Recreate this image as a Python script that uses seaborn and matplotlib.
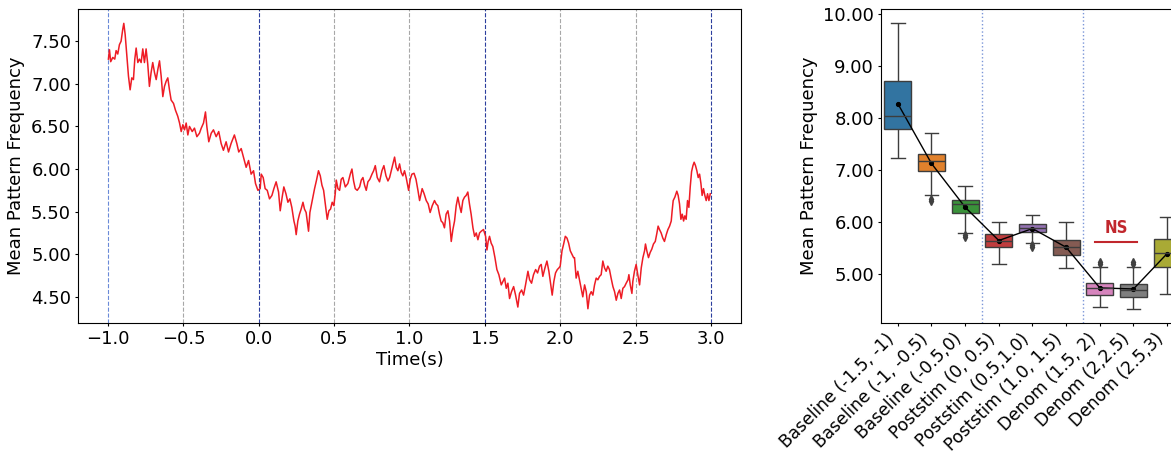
import matplotlib
matplotlib.use("Agg")
import matplotlib.pyplot as plt
import matplotlib.ticker as ticker
import numpy as np
import pandas as pd
import seaborn as sns

# ==========================================
# DONNEES
# ==========================================
# trace moyenne
time_s = [
    -0.998, -0.991, -0.983, -0.969, -0.956, -0.947, -0.936, -0.925, -0.914, -0.903,
    -0.896, -0.887, -0.876, -0.865, -0.854, -0.843, -0.832, -0.823, -0.814, -0.803,
    -0.792, -0.781, -0.770, -0.759, -0.748, -0.737, -0.726, -0.715, -0.704, -0.692,
    -0.681, -0.670, -0.659, -0.648, -0.637, -0.626, -0.615, -0.604, -0.593, -0.582,
    -0.566, -0.553, -0.538, -0.526, -0.515, -0.504, -0.493, -0.482, -0.471, -0.460,
    -0.442, -0.427, -0.411, -0.394, -0.382, -0.367, -0.354, -0.345, -0.332, -0.316,
    -0.301, -0.283, -0.266, -0.250, -0.235, -0.217, -0.201, -0.184, -0.162, -0.146,
    -0.133, -0.117, -0.102, -0.084, -0.068, -0.051, -0.035, -0.022, -0.006, 0.009,
    0.016, 0.029, 0.042, 0.056, 0.071, 0.087, 0.100, 0.115, 0.131, 0.142,
    0.155, 0.166, 0.180, 0.193, 0.206, 0.219, 0.233, 0.241, 0.248, 0.259,
    0.270, 0.281, 0.293, 0.303, 0.314, 0.330, 0.339, 0.348, 0.359, 0.370,
    0.383, 0.396, 0.408, 0.419, 0.430, 0.441, 0.454, 0.465, 0.476, 0.487,
    0.498, 0.507, 0.514, 0.525, 0.536, 0.547, 0.558, 0.574, 0.591, 0.607,
    0.618, 0.629, 0.640, 0.653, 0.669, 0.680, 0.691, 0.702, 0.713, 0.724,
    0.737, 0.751, 0.762, 0.773, 0.786, 0.801, 0.817, 0.830, 0.844, 0.857,
    0.868, 0.879, 0.890, 0.901, 0.912, 0.923, 0.934, 0.945, 0.956, 0.967,
    0.978, 0.994, 1.005, 1.016, 1.030, 1.043, 1.056, 1.067, 1.084, 1.097,
    1.111, 1.124, 1.137, 1.151, 1.166, 1.177, 1.188, 1.199, 1.210, 1.221,
    1.232, 1.243, 1.255, 1.266, 1.277, 1.288, 1.299, 1.310, 1.321, 1.332,
    1.343, 1.354, 1.365, 1.376, 1.387, 1.398, 1.409, 1.421, 1.432, 1.443,
    1.454, 1.465, 1.476, 1.491, 1.505, 1.514, 1.522, 1.531, 1.542, 1.553,
    1.567, 1.580, 1.593, 1.609, 1.620, 1.631, 1.642, 1.653, 1.664, 1.677,
    1.691, 1.704, 1.719, 1.730, 1.744, 1.757, 1.770, 1.786, 1.797, 1.810,
    1.823, 1.837, 1.850, 1.863, 1.874, 1.885, 1.899, 1.912, 1.925, 1.936,
    1.947, 1.958, 1.969, 1.981, 1.992, 2.000, 2.012, 2.023, 2.034, 2.045,
    2.056, 2.067, 2.078, 2.089, 2.095, 2.106, 2.117, 2.128, 2.139, 2.150,
    2.162, 2.173, 2.184, 2.195, 2.206, 2.217, 2.228, 2.239, 2.250, 2.261,
    2.272, 2.283, 2.294, 2.305, 2.316, 2.327, 2.338, 2.350, 2.361, 2.372,
    2.383, 2.394, 2.405, 2.416, 2.427, 2.438, 2.450, 2.456, 2.465, 2.476,
    2.482, 2.493, 2.504, 2.515, 2.527, 2.538, 2.549, 2.560, 2.566, 2.575,
    2.586, 2.597, 2.608, 2.619, 2.631, 2.642, 2.650, 2.659, 2.670, 2.681,
    2.692, 2.704, 2.715, 2.726, 2.737, 2.743, 2.750, 2.761, 2.774, 2.783,
    2.792, 2.801, 2.810, 2.819, 2.827, 2.836, 2.845, 2.854, 2.863, 2.872,
    2.881, 2.889, 2.898, 2.907, 2.916, 2.925, 2.934, 2.942, 2.951, 2.960,
    2.969, 2.978, 2.987, 2.996,
]
mean_freq = [
    7.29, 7.40, 7.26, 7.31, 7.29, 7.39, 7.35, 7.46, 7.50, 7.64,
    7.71, 7.58, 7.33, 7.09, 6.93, 7.07, 7.05, 7.29, 7.42, 7.25,
    7.29, 7.25, 7.41, 7.25, 7.41, 7.23, 6.97, 7.13, 7.25, 7.13,
    7.05, 7.17, 7.27, 7.09, 6.85, 6.97, 7.03, 7.07, 6.93, 6.81,
    6.77, 6.69, 6.62, 6.54, 6.44, 6.52, 6.46, 6.54, 6.40, 6.50,
    6.44, 6.48, 6.38, 6.42, 6.48, 6.54, 6.67, 6.50, 6.32, 6.42,
    6.46, 6.38, 6.44, 6.30, 6.22, 6.32, 6.20, 6.30, 6.40, 6.30,
    6.20, 6.24, 6.14, 6.02, 6.10, 5.94, 5.98, 5.83, 5.75, 5.77,
    5.94, 5.90, 5.77, 5.75, 5.65, 5.69, 5.77, 5.85, 5.73, 5.51,
    5.67, 5.79, 5.71, 5.61, 5.65, 5.55, 5.39, 5.33, 5.23, 5.39,
    5.47, 5.53, 5.61, 5.53, 5.49, 5.27, 5.49, 5.57, 5.67, 5.77,
    5.87, 5.98, 5.92, 5.81, 5.75, 5.59, 5.41, 5.51, 5.53, 5.61,
    5.57, 5.71, 5.87, 5.77, 5.75, 5.88, 5.90, 5.79, 5.83, 5.94,
    6.00, 5.86, 5.77, 5.75, 5.79, 5.87, 5.90, 5.81, 5.75, 5.85,
    5.88, 5.94, 5.98, 6.04, 5.90, 5.85, 5.98, 6.04, 5.92, 5.86,
    5.90, 5.98, 6.06, 6.14, 6.02, 5.98, 6.06, 5.96, 5.92, 5.98,
    5.90, 5.75, 5.88, 5.94, 5.95, 5.88, 5.75, 5.63, 5.77, 5.71,
    5.63, 5.59, 5.49, 5.57, 5.63, 5.59, 5.57, 5.47, 5.39, 5.37,
    5.31, 5.47, 5.51, 5.39, 5.15, 5.29, 5.39, 5.57, 5.67, 5.57,
    5.49, 5.63, 5.67, 5.69, 5.73, 5.59, 5.47, 5.31, 5.21, 5.25,
    5.17, 5.25, 5.27, 5.29, 5.21, 5.05, 5.15, 5.21, 5.13, 5.09,
    4.96, 4.82, 4.76, 4.64, 4.68, 4.72, 4.60, 4.66, 4.48, 4.56,
    4.62, 4.52, 4.38, 4.54, 4.58, 4.52, 4.64, 4.80, 4.70, 4.66,
    4.76, 4.82, 4.78, 4.86, 4.88, 4.74, 4.84, 4.92, 4.80, 4.66,
    4.52, 4.68, 4.78, 4.82, 4.84, 4.86, 5.04, 5.12, 5.21, 5.19,
    5.13, 5.04, 5.00, 4.96, 4.96, 4.72, 4.80, 4.70, 4.60, 4.50,
    4.64, 4.56, 4.36, 4.52, 4.56, 4.52, 4.64, 4.72, 4.70, 4.74,
    4.76, 4.92, 4.84, 4.80, 4.86, 4.82, 4.72, 4.62, 4.56, 4.46,
    4.54, 4.58, 4.48, 4.60, 4.62, 4.66, 4.70, 4.76, 4.64, 4.54,
    4.68, 4.80, 4.88, 4.76, 4.64, 4.84, 4.96, 5.04, 5.12, 5.04,
    4.96, 5.02, 5.06, 5.12, 5.15, 5.25, 5.33, 5.29, 5.25, 5.19,
    5.15, 5.23, 5.29, 5.33, 5.39, 5.51, 5.63, 5.67, 5.74, 5.69,
    5.59, 5.41, 5.47, 5.39, 5.45, 5.41, 5.63, 5.55, 5.79, 5.97,
    6.04, 6.08, 6.04, 5.98, 5.90, 5.94, 5.83, 5.69, 5.77, 5.69,
    5.63, 5.71, 5.63, 5.71,
]

# reperes temporels
boundaries = [-1.0, -0.5, 0.0, 0.5, 1.0, 1.5, 2.0, 2.5, 3.0]
boundary_colors = ['#6a8ad8', '#a8a8a8', '#2c3f9e', '#a8a8a8', '#a8a8a8',
                   '#2c3f9e', '#a8a8a8', '#a8a8a8', '#2c3f9e']

# boites par fenetre
periods = ['Baseline (-1.5, -1)', 'Baseline (-1, -0.5)', 'Baseline (-0.5,0)',
           'Poststim (0, 0.5)', 'Poststim (0.5,1.0)', 'Poststim (1.0, 1.5)',
           'Denom (1.5, 2)', 'Denom (2,2.5)', 'Denom (2.5,3)']
whisk_lo = [7.24, 6.52, 5.79, 5.20, 5.61, 5.12, 4.37, 4.34, 4.63]
q1 = [7.79, 6.99, 6.17, 5.53, 5.81, 5.37, 4.60, 4.57, 5.14]
median = [8.04, 7.18, 6.35, 5.65, 5.89, 5.53, 4.73, 4.70, 5.41]
q3 = [8.71, 7.31, 6.43, 5.78, 5.96, 5.66, 4.83, 4.81, 5.68]
whisk_hi = [9.82, 7.72, 6.69, 6.00, 6.14, 6.01, 5.14, 5.14, 6.11]
outliers_lo = [[], [6.40, 6.45], [5.72, 5.75], [], [5.53, 5.56], [], [], [], []]
outliers_hi = [[], [], [], [], [], [], [5.20, 5.24], [5.19, 5.24], []]
period_means = [8.28, 7.13, 6.29, 5.65, 5.88, 5.52, 4.74, 4.72, 5.40]

# separations entre phases (entre boites) + comparaison NS
phase_splits = [2.5, 5.5]
ns_pair = (6, 7)
ns_level = 5.63


def build_samples():
    # 13 valeurs par fenetre : quartiles exacts aux indices 3, 6 et 9
    rows = []
    for i, p in enumerate(periods):
        lo = list(outliers_lo[i]) + [whisk_lo[i]] * (3 - len(outliers_lo[i]))
        hi = [whisk_hi[i]] * (3 - len(outliers_hi[i])) + list(outliers_hi[i])
        vals = lo + [q1[i], q1[i], median[i], median[i], median[i], q3[i], q3[i], q3[i]] + hi
        rows += [(p, v) for v in vals]
    return pd.DataFrame(rows, columns=['period', 'value'])


plt.rcParams.update({'font.size': 13,
                     'xtick.major.size': 2.5, 'ytick.major.size': 2.5,
                     'xtick.major.pad': 2.5, 'ytick.major.pad': 2.5})

fig = plt.figure(figsize=(11.71, 4.54), dpi=100)
ax1 = fig.add_axes([0.0666, 0.2885, 0.5662, 0.6915])
ax2 = fig.add_axes([0.7523, 0.2885, 0.2588, 0.6915])

# --- panneau gauche : trace temporelle ---
for b, c in zip(boundaries, boundary_colors):
    ax1.axvline(b, color=c, linestyle='--', linewidth=0.8, zorder=1)
df_trace = pd.DataFrame({'t': time_s, 'v': mean_freq})
sns.lineplot(data=df_trace, x='t', y='v', color='#ee1c25', linewidth=1.1, ax=ax1, zorder=3)
ax1.set_xlabel('Time(s)', labelpad=2)
ax1.set_ylabel('Mean Pattern Frequency')
ax1.yaxis.set_major_locator(ticker.MultipleLocator(0.5))
ax1.yaxis.set_major_formatter(ticker.FormatStrFormatter('%.2f'))
ax1.xaxis.set_major_locator(ticker.MultipleLocator(0.5))
ax1.xaxis.set_major_formatter(ticker.ScalarFormatter())

# --- panneau droit : boites ---
df_box = build_samples()
sns.boxplot(data=df_box, x='period', y='value', hue='period', palette='tab10',
            order=periods, hue_order=periods, legend=False, ax=ax2,
            flierprops={'marker': 'd', 'markerfacecolor': '#404040',
                        'markeredgecolor': '#404040', 'markersize': 4})
sns.pointplot(x=periods, y=period_means, color='black', markers='o', markersize=3,
              linewidth=1, errorbar=None, ax=ax2)
for s in phase_splits:
    ax2.axvline(s, color='#7b96d8', linestyle=':', linewidth=1.0, zorder=0)

ax2.plot([ns_pair[0] - 0.15, ns_pair[1] + 0.1], [ns_level, ns_level], color='#c1272d', linewidth=1.5)
ax2.text((ns_pair[0] + ns_pair[1]) / 2 - 0.02, ns_level + 0.08, 'NS', color='#c1272d',
         fontweight='bold', fontsize=12, fontstretch='condensed', ha='center', va='bottom')

ax2.set_xlim(-0.5, len(periods) - 0.5)
ax2.set_xlabel('')
ax2.set_ylabel('Mean Pattern Frequency')
ax2.yaxis.set_major_locator(ticker.MultipleLocator(1.0))
ax2.yaxis.set_major_formatter(ticker.FormatStrFormatter('%.2f'))
ax2.set_xticks(range(len(periods)))
ax2.set_xticklabels(periods, rotation=45, ha='right', fontsize=12.3)

fig.savefig('out.png', dpi=100)
